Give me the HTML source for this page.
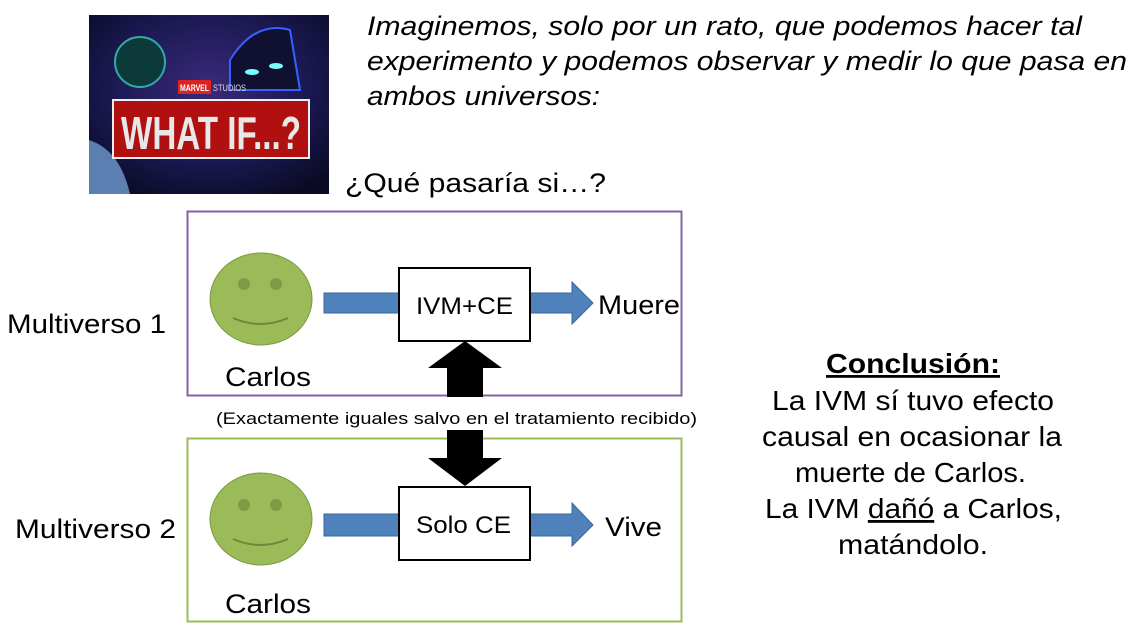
<!DOCTYPE html>
<html><head><meta charset="utf-8"><style>
html,body{margin:0;padding:0;background:#fff;}
svg{display:block;font-family:"Liberation Sans",Arial,sans-serif;}
</style></head><body>
<svg width="1137" height="631" viewBox="0 0 1137 631" xmlns="http://www.w3.org/2000/svg">
<defs>
<radialGradient id="sp" cx="0.5" cy="0.4" r="0.7">
<stop offset="0" stop-color="#3a2a7a"/><stop offset="0.6" stop-color="#1a1850"/><stop offset="1" stop-color="#0a0a25"/>
</radialGradient>
</defs>
<!-- poster -->
<rect x="89" y="15" width="240" height="179" fill="url(#sp)"/>
<circle cx="140" cy="62" r="25" fill="#0c3a3a" stroke="#3aa" stroke-width="2"/>
<path d="M230 60 Q255 20 290 30 L300 90 L230 90Z" fill="#101030" stroke="#3a5fff" stroke-width="2"/>
<ellipse cx="252" cy="72" rx="7" ry="3" fill="#7ff"/><ellipse cx="276" cy="66" rx="7" ry="3" fill="#7ff"/>
<path d="M89 140 Q120 150 130 194 L89 194Z" fill="#5a7fb0"/>
<rect x="178" y="80" width="33" height="14" fill="#d22"/>
<text x="180" y="91" font-size="9" font-weight="bold" fill="#fff" textLength="29" lengthAdjust="spacingAndGlyphs">MARVEL</text>
<text x="213" y="91" font-size="9" fill="#ddd" textLength="33" lengthAdjust="spacingAndGlyphs">STUDIOS</text>
<rect x="113" y="100" width="196" height="58" fill="#b01010" stroke="#eee" stroke-width="2"/>
<text x="211" y="149" font-size="46" font-weight="bold" fill="#e8e8e8" text-anchor="middle" textLength="180" lengthAdjust="spacingAndGlyphs">WHAT IF...?</text>

<g font-size="27" font-style="italic" fill="#000">
<text x="367" y="35" textLength="715" lengthAdjust="spacingAndGlyphs">Imaginemos, solo por un rato, que podemos hacer tal</text>
<text x="367" y="70" textLength="760" lengthAdjust="spacingAndGlyphs">experimento y podemos observar y medir lo que pasa en</text>
<text x="367" y="105" textLength="233" lengthAdjust="spacingAndGlyphs">ambos universos:</text>
</g>
<text x="345" y="192" font-size="27" textLength="261" lengthAdjust="spacingAndGlyphs">¿Qué pasaría si…?</text>

<rect x="187.5" y="211.5" width="494" height="184" fill="none" stroke="#8064a2" stroke-width="2"/>
<rect x="187.5" y="438.5" width="494" height="183" fill="none" stroke="#9bbb59" stroke-width="2"/>

<text x="7" y="333" font-size="27" textLength="159" lengthAdjust="spacingAndGlyphs">Multiverso 1</text>
<text x="15" y="538" font-size="27" textLength="161" lengthAdjust="spacingAndGlyphs">Multiverso 2</text>

<!-- faces -->
<g>
<ellipse cx="261" cy="299" rx="51" ry="46" fill="#9bbb59" stroke="#7a9a40" stroke-width="1"/>
<circle cx="244" cy="284" r="6" fill="#7d9a44"/><circle cx="276" cy="284" r="6" fill="#7d9a44"/>
<path d="M233 318 Q261 330 288 318" fill="none" stroke="#6a8a3a" stroke-width="2"/>
<ellipse cx="261" cy="519" rx="51" ry="46" fill="#9bbb59" stroke="#7a9a40" stroke-width="1"/>
<circle cx="244" cy="505" r="6" fill="#7d9a44"/><circle cx="276" cy="505" r="6" fill="#7d9a44"/>
<path d="M233 539 Q261 551 288 539" fill="none" stroke="#6a8a3a" stroke-width="2"/>
</g>
<text x="225" y="386" font-size="27" textLength="86" lengthAdjust="spacingAndGlyphs">Carlos</text>
<text x="225" y="613" font-size="27" textLength="86" lengthAdjust="spacingAndGlyphs">Carlos</text>

<!-- blue arrows -->
<rect x="324" y="293" width="75" height="20" fill="#4f81bd" stroke="#3a679e"/>
<path d="M530 293 H572 V282 L593 303 L572 324 V313 H530Z" fill="#4f81bd" stroke="#3a679e"/>
<rect x="324" y="514" width="75" height="22" fill="#4f81bd" stroke="#3a679e"/>
<path d="M530 514 H572 V503 L593 525 L572 546 V536 H530Z" fill="#4f81bd" stroke="#3a679e"/>

<!-- boxes -->
<rect x="399" y="268" width="131" height="73" fill="#fff" stroke="#000" stroke-width="2"/>
<text x="416" y="314" font-size="24" textLength="97" lengthAdjust="spacingAndGlyphs">IVM+CE</text>
<rect x="399" y="487" width="131" height="73" fill="#fff" stroke="#000" stroke-width="2"/>
<text x="416" y="533" font-size="24" textLength="95" lengthAdjust="spacingAndGlyphs">Solo CE</text>

<text x="598" y="314" font-size="27" textLength="82" lengthAdjust="spacingAndGlyphs">Muere</text>
<text x="605" y="536" font-size="27" textLength="57" lengthAdjust="spacingAndGlyphs">Vive</text>

<!-- black arrows -->
<path d="M465 341 L502 368 H483 V397 H447 V368 H428Z" fill="#000"/>
<path d="M447 430 H483 V458 H502 L465 486 L428 458 H447Z" fill="#000"/>
<text x="216" y="424" font-size="17" textLength="481" lengthAdjust="spacingAndGlyphs">(Exactamente iguales salvo en el tratamiento recibido)</text>

<!-- conclusion -->
<g font-size="28">
<text x="826" y="373" font-weight="bold" text-decoration="underline" textLength="174" lengthAdjust="spacingAndGlyphs">Conclusión:</text>
<text x="772" y="410" textLength="282" lengthAdjust="spacingAndGlyphs">La IVM sí tuvo efecto</text>
<text x="762" y="446" textLength="300" lengthAdjust="spacingAndGlyphs">causal en ocasionar la</text>
<text x="795" y="482" textLength="231" lengthAdjust="spacingAndGlyphs">muerte de Carlos.</text>
<text x="765" y="518" textLength="297" lengthAdjust="spacingAndGlyphs">La IVM <tspan text-decoration="underline">dañó</tspan> a Carlos,</text>
<text x="838" y="554" textLength="150" lengthAdjust="spacingAndGlyphs">matándolo.</text>
</g>
</svg>
</body></html>
